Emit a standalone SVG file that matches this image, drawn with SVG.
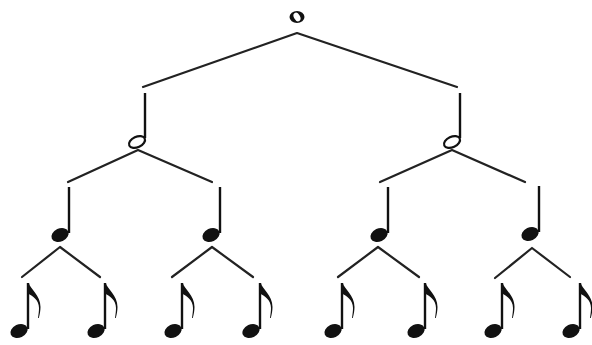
<svg xmlns="http://www.w3.org/2000/svg" width="592" height="345" viewBox="0 0 592 345">
<style>
.ln{fill:none;stroke:#222;stroke-width:2.2;stroke-linecap:round;stroke-linejoin:round}
.stem{stroke:#111;stroke-width:2.4}
.blk{fill:#111}
</style>
<defs>
<g id="eighth">
<line class="stem" x1="0" y1="0" x2="0" y2="46"/>
<ellipse class="blk" cx="-9" cy="48" rx="9" ry="6.5" transform="rotate(-25 -9 48)"/>
<path class="blk" d="M-1,0 L0.8,0 C2,6 12.5,12 12.5,24 C12.5,28 11.8,31 10.8,35 L10,35 C10.6,31 11,28 11,25 C11,17 5,13 -1,10 Z"/>
</g>
<g id="quarter">
<line class="stem" x1="0" y1="0" x2="0" y2="46"/>
<ellipse class="blk" cx="-9" cy="48" rx="9" ry="6.5" transform="rotate(-25 -9 48)"/>
</g>
<g id="half">
<line class="stem" x1="0" y1="0" x2="0" y2="45"/>
<ellipse cx="-8" cy="49" rx="8.5" ry="5.2" transform="rotate(-25 -8 49)" fill="#fff" stroke="#111" stroke-width="2.2"/>
</g>
</defs>
<rect width="592" height="345" fill="#fff"/>
<g id="connectors">
<path class="ln" d="M143,87 L297,33 L457,87"/>
<path class="ln" d="M68,182 L138,150 L212,182"/>
<path class="ln" d="M380,182 L452,150 L525,182"/>
<path class="ln" d="M22,277 L60,247 L100,277"/>
<path class="ln" d="M172,277 L212,247 L253,277"/>
<path class="ln" d="M338,277 L378,247 L419,277"/>
<path class="ln" d="M495,278 L532,248 L570,277"/>
</g>
<g id="whole">
<ellipse class="blk" cx="297" cy="17" rx="7.5" ry="6"/>
<ellipse cx="297" cy="17" rx="3" ry="4.6" fill="#fff" transform="rotate(-30 297 17)"/>
</g>
<g id="half-left"><use href="#half" x="145" y="93"/></g>
<g id="half-right"><use href="#half" x="460" y="93"/></g>
<g id="quarter-1"><use href="#quarter" x="69" y="187"/></g>
<g id="quarter-2"><use href="#quarter" x="220" y="187"/></g>
<g id="quarter-3"><use href="#quarter" x="388" y="187"/></g>
<g id="quarter-4"><use href="#quarter" x="539" y="186"/></g>
<g id="eighth-1"><use href="#eighth" x="28" y="283"/></g>
<g id="eighth-2"><use href="#eighth" x="105" y="283"/></g>
<g id="eighth-3"><use href="#eighth" x="182" y="283"/></g>
<g id="eighth-4"><use href="#eighth" x="260" y="283"/></g>
<g id="eighth-5"><use href="#eighth" x="342" y="283"/></g>
<g id="eighth-6"><use href="#eighth" x="425" y="283"/></g>
<g id="eighth-7"><use href="#eighth" x="502" y="283"/></g>
<g id="eighth-8"><use href="#eighth" x="580" y="283"/></g>
</svg>
